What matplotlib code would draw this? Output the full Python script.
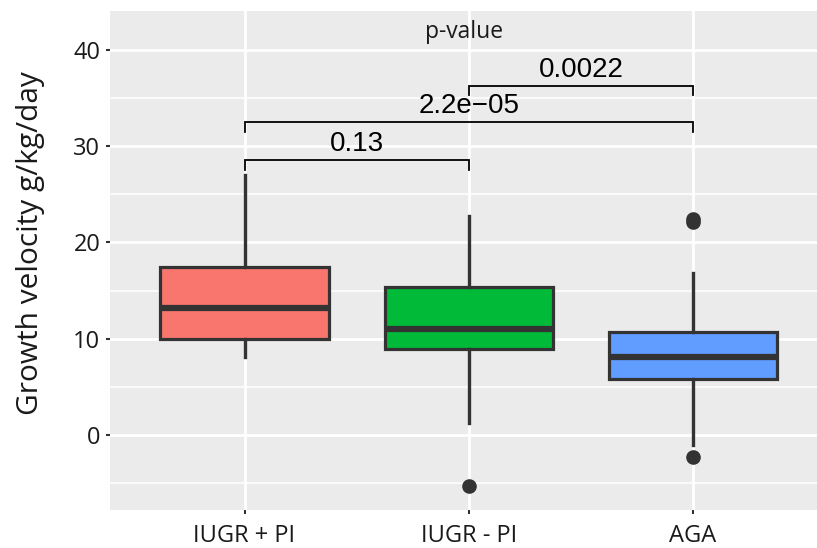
import matplotlib
matplotlib.use("Agg")
import matplotlib.pyplot as plt
from matplotlib.ticker import MultipleLocator

# data
groups = ["IUGR + PI", "IUGR - PI", "AGA"]
q1 = [10.0, 8.9, 5.8]
med = [13.2, 11.0, 8.1]
q3 = [17.45, 15.4, 10.7]
whis_lo = [8.1, 1.25, -1.0]
whis_hi = [27.0, 22.7, 16.8]
outliers = [[], [-5.3], [-2.3, 22.15, 22.4]]
colors = ["#F8766D", "#00BA38", "#619CFF"]

# pairwise comparisons (group index pairs), bracket heights and p-values
pairs = [(1, 2), (1, 3), (2, 3)]
bracket_y = [28.55, 32.5, 36.3]
p_labels = ["0.13", "2.2e\u221205", "0.0022"]

fig = plt.figure(figsize=(8.17, 5.48), dpi=100)
ax = fig.add_axes([110/817, 38/548, 707/817, 499/548])
ax.set_facecolor("#EBEBEB")
for s in ax.spines.values():
    s.set_visible(False)

stats = []
for i in range(len(groups)):
    stats.append(dict(med=med[i], q1=q1[i], q3=q3[i], whislo=whis_lo[i],
                      whishi=whis_hi[i], fliers=outliers[i], label=groups[i]))

pos = [1, 2, 3]
bp = ax.bxp(stats, positions=pos, widths=0.75, patch_artist=True, showcaps=False,
            boxprops=dict(edgecolor="#333333", linewidth=2.3),
            medianprops=dict(color="#333333", linewidth=4.5, solid_capstyle="butt"),
            whiskerprops=dict(color="#333333", linewidth=2.4),
            flierprops=dict(marker="o", markerfacecolor="#333333", markeredgecolor="#333333",
                            markersize=9.5),
            zorder=3)
for patch, c in zip(bp["boxes"], colors):
    patch.set_facecolor(c)

# grid
ax.yaxis.set_major_locator(MultipleLocator(10))
ax.yaxis.set_minor_locator(MultipleLocator(5))
ax.grid(which="major", axis="y", color="white", linewidth=2.0, zorder=0)
ax.grid(which="minor", axis="y", color="white", linewidth=1.1, zorder=0)
ax.grid(which="major", axis="x", color="white", linewidth=2.0, zorder=0)
ax.set_axisbelow(True)

ax.set_xlim(0.4, 3.553)
ax.set_ylim(-7.8, 44.05)
ax.set_xticks(pos)
ax.set_xticklabels(groups)
ax.tick_params(axis="both", which="major", length=3, width=1.5, color="#333333",
               labelsize=17, labelcolor="#1a1a1a", pad=4)
ax.tick_params(axis="x", pad=7)
ax.tick_params(which="minor", length=0)
for lab in ax.get_xticklabels() + ax.get_yticklabels():
    lab.set_family("Open Sans")

ax.text(-0.113, 0.535, "Growth velocity g/kg/day", transform=ax.transAxes,
        rotation=90, ha="center", va="center", fontsize=21.5, family="Open Sans",
        color="#1a1a1a")

# significance brackets
tip = 1.0
for (a, b), h, lab in zip(pairs, bracket_y, p_labels):
    ax.plot([a, a, b, b], [h - tip, h, h, h - tip], color="black", linewidth=1.3,
            zorder=4, solid_joinstyle="miter")
    ax.text((a + b) / 2, h + 0.3, lab, ha="center", va="bottom", fontsize=20,
            family="Liberation Sans", color="black", zorder=5)

ax.text(1.98, 41.85, "p-value", ha="center", va="center", fontsize=16.5,
        family="Open Sans", color="#1a1a1a")

plt.savefig("out.png", dpi=100)
